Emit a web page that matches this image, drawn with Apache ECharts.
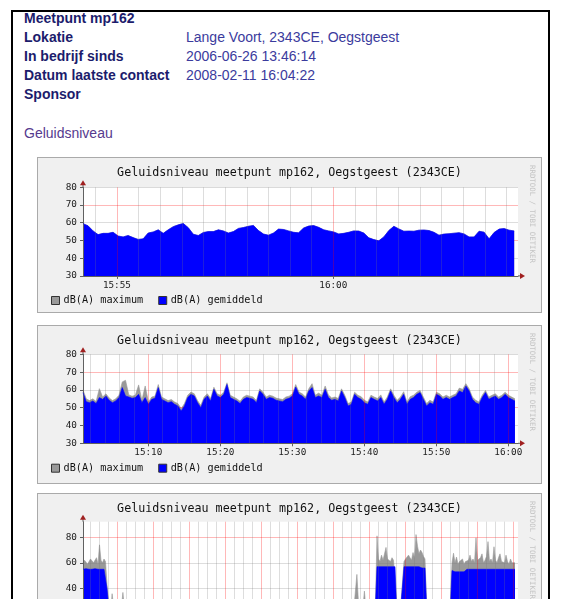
<!DOCTYPE html>
<html>
<head>
<meta charset="utf-8">
<script src="https://cdn.jsdelivr.net/npm/echarts@6/dist/echarts.min.js"></script>
<style>
  html, body { margin: 0; padding: 0; background: #fff; overflow: hidden; }
  body { width: 565px; height: 599px; position: relative; font-family: Arial, "Liberation Sans", sans-serif; }
  #frame { position: absolute; left: 11px; top: 10px; width: 535px; height: 640px;
           border-left: 2px solid #000; border-top: 2px solid #000; border-right: 2px solid #000; }
  .row { position: absolute; left: 24px; font-size: 14px; line-height: 19px; white-space: nowrap; }
  .lbl { font-weight: bold; color: #1c1c6c; }
  .val { position: absolute; left: 162px; color: #3b3b9d; }
  #link { position: absolute; left: 24px; top: 124px; font-size: 14px; line-height: 19px; color: #563a8e; }
  .panel { position: absolute; left: 37px; width: 503px; background: #f0f0f0; border: 1px solid #aaa; }
</style>
</head>
<body>
<div id="frame"></div>
<div class="row" style="top:9px"><span class="lbl">Meetpunt mp162</span></div>
<div class="row" style="top:28px"><span class="lbl">Lokatie</span><span class="val">Lange Voort, 2343CE, Oegstgeest</span></div>
<div class="row" style="top:47px"><span class="lbl">In bedrijf sinds</span><span class="val">2006-06-26 13:46:14</span></div>
<div class="row" style="top:66px"><span class="lbl">Datum laatste contact</span><span class="val">2008-02-11 16:04:22</span></div>
<div class="row" style="top:85px"><span class="lbl">Sponsor</span></div>
<div id="link">Geluidsniveau</div>

<div class="panel" id="p1" style="top:157px;height:154px"></div>
<div class="panel" id="p2" style="top:325px;height:157px"></div>
<div class="panel" id="p3" style="top:493px;height:160px"></div>

<script>
// ---- data ----
// graph 1: last ~10 minutes, fixed sample step (seconds)
const C1_START = '15:54:13';
const C1_STEP = 6.95;
const chart1Avg = [
  59.5, 58.3, 55.4, 53.3, 54.0, 54.0, 54.6, 52.5, 52.0, 52.8,
  51.6, 50.6, 50.9, 54.2, 54.8, 56.0, 54.0, 56.0, 57.8, 58.8,
  59.6, 57.2, 53.5, 52.8, 54.5, 55.0, 55.0, 56.0, 55.4, 54.2,
  55.0, 56.8, 57.3, 58.0, 58.5, 55.6, 53.6, 53.0, 54.2, 56.4,
  56.2, 55.4, 54.6, 54.3, 57.0, 58.1, 58.4, 57.4, 56.0, 55.4,
  54.8, 53.7, 54.0, 54.6, 55.4, 55.3, 54.2, 51.5, 50.5, 49.8,
  52.0, 55.6, 58.0, 56.5, 55.2, 55.3, 55.2, 55.8, 55.9, 55.6,
  54.6, 53.0, 53.6, 53.8, 54.1, 54.4, 53.7, 52.0, 52.0, 55.2,
  54.7, 50.9, 54.5, 56.4, 56.7, 55.8, 55.4
];
// maximum is hidden behind the average at this resolution
const chart1Max = chart1Avg;

// graph 2: last hour
const C2_START = '15:00:56';
const C2_STEP = 27.27;
const chart2Avg = [
  58.5, 53.4, 52.8, 53.8, 52.3, 55.7, 54.7, 56.6, 54.2, 52.8,
  53.8, 55.7, 61.3, 56.6, 56.0, 55.3, 55.7, 57.5, 52.8, 55.7,
  51.9, 54.7, 55.3, 61.3, 54.7, 53.8, 52.8, 53.4, 51.9, 51.0,
  48.2, 51.0, 55.7, 57.5, 56.6, 52.8, 50.0, 54.7, 56.6, 53.8,
  60.3, 56.6, 55.7, 57.5, 63.1, 55.7, 54.7, 53.8, 52.3, 54.7,
  55.7, 55.3, 54.7, 52.8, 59.4, 57.5, 54.7, 55.7, 55.3, 54.2,
  53.8, 53.4, 54.7, 55.3, 56.6, 61.6, 57.5,
  56.6, 54.7, 59.4, 61.3, 55.7, 56.6, 55.7, 60.3, 55.7, 54.2,
  54.7, 53.8, 59.4, 55.7, 51.0, 51.9, 57.5, 55.7, 54.7, 52.8,
  51.9, 55.7, 54.7, 53.8, 55.7, 51.9, 54.7, 59.4, 55.7, 52.8,
  54.7, 57.5, 51.9, 54.7, 55.7, 57.5, 58.5, 54.7, 51.0, 52.8,
  51.9, 57.5, 56.6, 54.7, 55.7, 54.7, 55.7, 56.6, 59.4, 58.5,
  62.2, 59.4, 54.7, 52.8, 51.9, 55.7, 58.5, 54.7, 55.7, 56.6,
  54.7, 55.7, 57.5, 55.7, 54.7, 53.8
];
const chart2Max = [
  60.0, 55.0, 54.0, 55.0, 53.5, 60.7, 56.0, 57.8, 55.5, 54.0,
  55.0, 57.0, 64.5, 65.4, 57.2, 56.5, 57.0, 62.8, 54.2, 62.2,
  53.2, 56.0, 56.5, 63.0, 56.0, 55.0, 54.0, 54.6, 53.2, 52.3,
  49.5, 52.3, 57.0, 58.8, 57.8, 54.0, 51.3, 56.0, 57.8, 55.2,
  61.5, 57.8, 57.0, 58.7, 64.0, 57.0, 56.0, 55.0, 53.6, 56.0,
  57.0, 56.5, 56.0, 54.0, 60.6, 58.7, 56.0, 57.0, 56.5, 55.4,
  55.0, 54.6, 56.0, 56.5, 57.8, 63.0, 58.8,
  57.8, 56.0, 60.6, 63.5, 57.0, 58.2, 57.0, 62.2, 57.2, 55.5,
  56.0, 55.2, 60.6, 57.0, 52.3, 53.2, 58.7, 57.0, 56.2, 54.2,
  53.2, 57.0, 56.0, 55.2, 57.2, 53.2, 56.0, 60.6, 57.0, 54.2,
  56.0, 59.0, 53.2, 56.2, 57.0, 58.7, 59.7, 56.0, 52.3, 54.2,
  53.2, 58.7, 57.8, 56.0, 57.0, 56.0, 57.0, 57.8, 61.0, 60.3,
  63.5, 60.6, 56.0, 54.2, 53.2, 57.0, 59.7, 56.0, 57.0, 57.8,
  56.0, 57.0, 58.7, 57.0, 56.0, 55.0
];

// graph 3: last 24 hours, sample times in minutes after start (previous day)
const C3_START = '16:07:00';
const chart3Minutes = [
  0, 5, 10, 15, 20, 25, 30, 35, 40, 45, 50, 55, 60, 65, 70, 75, 80,
  85, 95, 97, 100, 130, 133, 136, 300, 500, 700, 905, 913, 918, 935, 938, 941, 975,
  980, 985, 990, 995, 1000, 1005, 1010, 1015, 1020, 1025, 1030, 1035, 1040, 1045,
  1050, 1060, 1065,
  1070, 1075, 1080, 1085, 1090, 1095, 1100, 1105, 1110, 1115, 1120, 1125, 1130, 1135, 1140, 1145,
  1150, 1180, 1225,
  1230, 1235, 1240, 1245, 1250, 1255, 1260, 1265, 1270, 1275, 1280, 1285, 1290, 1295, 1300,
  1305, 1310, 1315, 1320, 1325, 1330, 1335, 1340, 1345, 1350, 1355, 1360, 1365, 1370, 1375,
  1380, 1385, 1390, 1395, 1400, 1405, 1410, 1415, 1420, 1425, 1430, 1435, 1440
];
const chart3Avg = [
  55, 54.5, 55.5, 54, 55, 54.5, 55, 54, 55.5, 54.5, 55, 54, 55, 54.5, 55, 54, 40,
  28, 28, 28, 28, 28, 28, 28, 28, 28, 28, 28, 28, 28, 28, 28, 28, 28,
  57, 58, 57, 57.5, 57, 56.5, 57, 57.5, 57, 56.5, 57, 56.5, 57, 28,
  28, 28, 42,
  57, 56.5, 57, 56, 57, 56.5, 57, 56.5, 57, 56, 57, 56.5, 56, 56.5, 56, 28,
  28, 28, 28,
  54, 53.5, 53, 53.5, 53, 53.5, 53, 53.5, 53, 54, 55, 54.5, 55, 54.5, 55,
  54.5, 55, 54.5, 55, 54.5, 55, 54.5, 55, 54.5, 55, 54.5, 55, 54.5, 55, 54.5,
  55, 54.5, 55, 54.5, 55, 54.5, 55, 54.5, 55, 54.5, 55, 54.5, 55
];
const chart3Max = [
  60, 62, 61, 59, 61, 63, 64, 60, 61, 64, 59, 74, 62, 60, 63, 61, 43,
  30, 30, 36, 30, 30, 37, 30, 30, 30, 30, 30, 51, 30, 30, 38, 30, 30,
  81, 63, 61, 66, 62, 61, 72, 63, 62, 61, 64, 62, 61, 30,
  30, 30, 45,
  61, 63, 62, 66, 64, 62, 68, 64, 82, 73, 67, 70, 68, 65, 63, 30,
  30, 30, 30,
  60, 67.5, 60, 64.5, 59, 61, 60, 63, 59, 61, 60, 62, 66, 61, 63,
  60, 79.5, 62, 61, 64, 67, 60, 62, 65, 76.5, 61, 63, 60, 72.5, 62,
  60, 64, 67, 61, 62, 60, 66, 61, 59, 63, 60, 61, 60
];

// axis labels
const chart1TimeLabels = ['15:55', '16:00'];
const chart2TimeLabels = ['15:10', '15:20', '15:30', '15:40', '15:50', '16:00'];
const chart3TimeLabels = ['18:00', '20:00', '22:00', '00:00', '02:00', '04:00',
                          '06:00', '08:00', '10:00', '12:00', '14:00', '16:00'];
const yLabels12 = [30, 40, 50, 60, 70, 80];
const yLabels3 = [0, 20, 40, 60, 80];

const TITLE = 'Geluidsniveau meetpunt mp162, Oegstgeest (2343CE)';
const MONO = '"DejaVu Sans Mono", monospace';
const MAJOR = 'rgba(255,0,0,0.28)';
const MINOR = 'rgba(120,120,120,0.25)';
const AXIS = '#606060';
const ARROW = '#a02020';

function toSec(s) {
  const p = s.split(':').map(Number);
  return p[0] * 3600 + p[1] * 60 + (p[2] || 0);
}
function fmt(v) {
  const d = ((Math.round(v) % 86400) + 86400) % 86400;
  const h = Math.floor(d / 3600), m = Math.floor((d % 3600) / 60);
  return String(h).padStart(2, '0') + ':' + String(m).padStart(2, '0');
}

function buildChart(el, cfg) {
  const chart = echarts.init(el, null, { renderer: 'canvas' });
  const gl = 45, gw = 435;
  const xMax = cfg.start + cfg.span;

  // vertical grid lines every minor step, red on the major ones
  const vlines = [];
  for (let t = Math.ceil(cfg.start / cfg.minor) * cfg.minor; t <= xMax; t += cfg.minor) {
    vlines.push({ xAxis: t, lineStyle: { color: t % cfg.major === 0 ? MAJOR : MINOR } });
  }
  const labelSecs = cfg.labels.map(l => {
    let s = toSec(l);
    while (s < cfg.start) s += 86400;
    return s;
  });

  const gb = cfg.top + cfg.height, gr = gl + gw;
  chart.setOption({
    animation: false,
    title: {
      text: TITLE, left: 'center', top: 8, padding: 0,
      textStyle: { fontFamily: MONO, fontSize: 11.7, fontWeight: 'normal', color: '#111', lineHeight: 13 }
    },
    legend: {
      left: 13, top: cfg.legendTop, padding: 0, itemWidth: 8, itemHeight: 8, itemGap: 15,
      icon: 'rect', selectedMode: false,
      itemStyle: { borderColor: '#333', borderWidth: 1 },
      textStyle: { fontFamily: MONO, fontSize: 10.2, color: '#111', lineHeight: 12, padding: [0, 0, 0, -1] },
      data: ['dB(A) maximum', 'dB(A) gemiddeld']
    },
    grid: { left: gl, top: cfg.top, width: gw, height: cfg.height, show: true,
            backgroundColor: '#fff', borderWidth: 0 },
    xAxis: {
      type: 'value', min: cfg.start, max: xMax, z: 3,
      axisLine: { onZero: false, lineStyle: { color: AXIS } },
      axisTick: { show: true, customValues: labelSecs, length: 3, lineStyle: { color: AXIS } },
      axisLabel: { customValues: labelSecs, formatter: fmt, margin: 5,
                   fontFamily: MONO, fontSize: 9.3, color: '#222' },
      splitLine: { show: false }
    },
    yAxis: {
      type: 'value', min: cfg.yMin, max: cfg.yMax, interval: 5, z: 3,
      axisLine: { show: true, lineStyle: { color: AXIS } },
      axisTick: { show: true, customValues: cfg.yLabels, length: 3, lineStyle: { color: AXIS } },
      axisLabel: { customValues: cfg.yLabels, margin: 6, fontFamily: MONO, fontSize: 9.4, color: '#222',
                   formatter: v => (cfg.yLabels.indexOf(v) >= 0 ? String(v) : '') },
      splitLine: { show: true, lineStyle: { color: cfg.splitColors, width: 1 } }
    },
    graphic: [
      { type: 'text', x: 494, y: 7, rotation: -Math.PI / 2, silent: true,
        style: { text: 'RRDTOOL / TOBI OETIKER', fill: '#c4c4c4',
                 font: '7.4px "DejaVu Sans Mono", monospace', align: 'left', verticalAlign: 'middle' } },
      { type: 'line', silent: true, shape: { x1: gl, y1: cfg.top, x2: gl, y2: cfg.top - 3 },
        style: { stroke: AXIS, lineWidth: 1 } },
      { type: 'polygon', silent: true,
        shape: { points: [[gl - 3, cfg.top - 2], [gl + 3, cfg.top - 2], [gl, cfg.top - 7]] },
        style: { fill: ARROW } },
      { type: 'line', silent: true, shape: { x1: gr, y1: gb, x2: gr + 3, y2: gb },
        style: { stroke: AXIS, lineWidth: 1 } },
      { type: 'polygon', silent: true,
        shape: { points: [[gr + 2, gb - 3], [gr + 2, gb + 3], [gr + 7, gb]] },
        style: { fill: ARROW } }
    ],
    series: [
      {
        name: 'dB(A) maximum', type: 'line', data: cfg.max, showSymbol: false, z: 2,
        itemStyle: { color: '#999999' }, lineStyle: { width: 0.6, color: '#999999' },
        areaStyle: { color: '#999999', opacity: 1 }
      },
      {
        name: 'dB(A) gemiddeld', type: 'line', data: cfg.avg, showSymbol: false, z: 3,
        itemStyle: { color: '#0000ff' }, lineStyle: { width: 0.6, color: '#0000ff' },
        areaStyle: { color: '#0000ff', opacity: 1 },
        markLine: { silent: true, symbol: ['none', 'none'], label: { show: false },
                    lineStyle: { type: 'solid', width: 1 }, data: vlines }
      }
    ]
  });
  return chart;
}

const s1 = toSec(C1_START), s2 = toSec(C2_START), s3 = toSec(C3_START);

buildChart(document.getElementById('p1'), {
  start: s1, span: 603, minor: 30, major: 300, labels: chart1TimeLabels,
  top: 29.3, height: 88.6, legendTop: 136.5, yMin: 30, yMax: 80, yLabels: yLabels12,
  splitColors: [MAJOR, MINOR],
  avg: chart1Avg.map((v, i) => [s1 + i * C1_STEP, v]),
  max: chart1Max.map((v, i) => [s1 + i * C1_STEP, v])
});

buildChart(document.getElementById('p2'), {
  start: s2, span: 3625, minor: 120, major: 600, labels: chart2TimeLabels,
  top: 28.3, height: 89, legendTop: 136.2, yMin: 30, yMax: 80, yLabels: yLabels12,
  splitColors: [MAJOR, MINOR],
  avg: chart2Avg.map((v, i) => [s2 + i * C2_STEP, v]),
  max: chart2Max.map((v, i) => [s2 + i * C2_STEP, v])
});

buildChart(document.getElementById('p3'), {
  start: s3, span: 87000, minor: 1800, major: 7200, labels: chart3TimeLabels,
  top: 27.7, height: 122.7, legendTop: 172, yMin: 0, yMax: 92, yLabels: yLabels3,
  splitColors: [MAJOR, MINOR, MINOR, MINOR],
  avg: chart3Minutes.map((m, i) => [s3 + m * 60, chart3Avg[i]]),
  max: chart3Minutes.map((m, i) => [s3 + m * 60, chart3Max[i]])
});
</script>
</body>
</html>
